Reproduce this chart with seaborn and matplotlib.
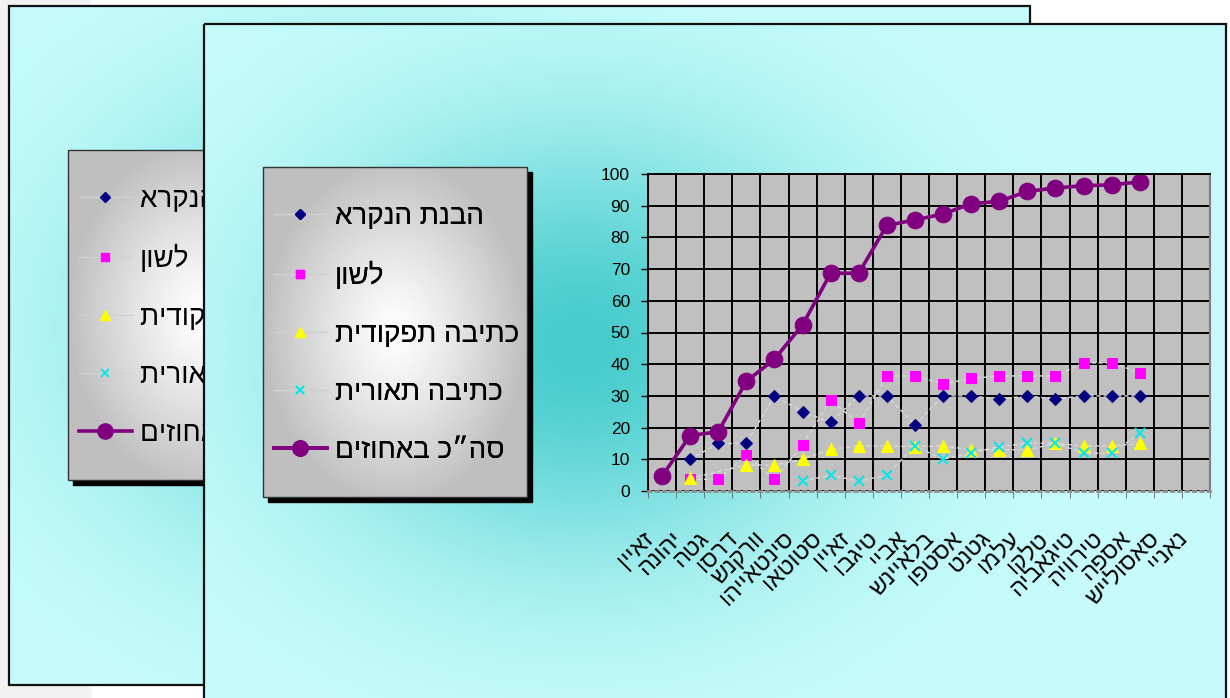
import numpy as np
import seaborn as sns
import matplotlib.pyplot as plt
from matplotlib.lines import Line2D
from matplotlib.patches import Rectangle
from matplotlib.transforms import ScaledTranslation

# category names (logical Hebrew order)
names = ["זאיין", "יהונה", "גטה", "דרסו", "וורקנש", "סינטאייהו", "סטוטאו", "זאיין",
         "טיגבו", "אביי", "בלאיינש", "אסטפו", "גטנט", "עלמו", "טלקו", "טיגאביה",
         "טירוויה", "אספה", "סאסולייש", "נאניי"]

nan = np.nan
reading = [nan, 10, 15, 15, 30, 25, 21.7, 30, 30, 20.9, 30, 30, 29, 30, 29, 30, 30, 30]
language = [nan, 3.7, 3.7, 11.2, 3.7, 14.6, 28.6, 21.3, 36.3, 36.3, 33.7, 35.5, 36.3,
            36.3, 36.3, 40.4, 40.4, 37.3]
functional = [nan, 4, nan, 8.2, 8.2, 10, 13.1, 14.2, 14.2, 14, 14.2, 13, 13, 13, 15,
              14.2, 14.2, 15]
descriptive = [nan, nan, nan, nan, nan, 3.1, 5, 3.1, 5, 14.2, 10, 11.9, 14, 15, 15.2,
               11.9, 11.9, 18.2]
total = [4.7, 17.5, 18.7, 34.6, 41.6, 52.4, 68.7, 68.7, 83.8, 85.5, 87.4, 90.6, 91.4,
         94.5, 95.6, 96.3, 96.6, 97.5]

series_names = ["הבנת הנקרא", "לשון", "כתיבה תפקודית", "כתיבה תאורית", "סה״כ באחוזים"]


def vis(s):
    # matplotlib has no bidi support, so feed Hebrew in visual order
    return s[::-1]


plt.rcParams['font.family'] = ['Liberation Sans', 'DejaVu Sans']

W, H = 1230, 698
fig = plt.figure(figsize=(W / 100, H / 100), dpi=100)
fig.patch.set_facecolor('white')

bg = fig.add_axes([0, 0, 1, 1], zorder=0)
bg.axis('off')
bg.add_patch(Rectangle((0, 0), 90, H, color='#f2f2f2', zorder=0))

light = np.array([200, 252, 252]) / 255
dark = np.array([72, 204, 204]) / 255


def slide(x0, y0, x1, y1, z):
    xs = np.arange(x0, x1, 4) - x0
    ys = np.arange(y0, y1, 4) - y0
    X, Y = np.meshgrid(xs, ys)
    w = np.exp(-((X - 375) / 265) ** 2 - ((Y - 320) / 215) ** 2)
    img = light * (1 - w[..., None]) + dark * w[..., None]
    bg.imshow(img, extent=(x0, x1, y1, y0), zorder=z, interpolation='bilinear',
              aspect='auto')
    bg.add_patch(Rectangle((x0, y0), x1 - x0, y1 - y0, fill=False, ec='#111111',
                           lw=1.6, zorder=z + 0.1))


def legend_box(x0, y0, z):
    bw, bh = 264, 330
    bg.add_patch(Rectangle((x0 + 5, y0 + 5), bw, bh, color='black', zorder=z))
    X, Y = np.meshgrid(np.linspace(-1, 1, 132), np.linspace(-1, 1, 165))
    r = np.clip(np.sqrt(X ** 2 + (Y * 0.95) ** 2), 0, 1)
    v = 1 - 0.25 * r ** 1.2
    img = np.dstack([v, v, v])
    bg.imshow(img, extent=(x0, x0 + bw, y0 + bh, y0), zorder=z + 0.1,
              interpolation='bilinear', aspect='auto')
    bg.add_patch(Rectangle((x0, y0), bw, bh, fill=False, ec='#333333', lw=1,
                           zorder=z + 0.2))


handles = [
    Line2D([], [], color='#d0d0d0', lw=1, marker='D', ms=5.5, mfc='#000080', mec='#000080'),
    Line2D([], [], color='#d0d0d0', lw=1, marker='s', ms=6, mfc='#ff00ff', mec='#ff00ff'),
    Line2D([], [], color='#d0d0d0', lw=1, marker='^', ms=6.5, mfc='#ffff00', mec='#ffff00'),
    Line2D([], [], color='#d0d0d0', lw=1, marker='x', ms=5.5, mec='#00e8e8', mew=1.3),
    Line2D([], [], color='#800080', lw=2.6, marker='o', ms=11, mfc='#800080', mec='#800080'),
]


def add_legend(x0, y0, z):
    leg = bg.legend(handles, [vis(s) for s in series_names], loc='center left',
                    bbox_to_anchor=(x0 + 11, y0 + 167), bbox_transform=bg.transData,
                    frameon=False, fontsize=20, handlelength=1.9, handletextpad=0.3,
                    labelspacing=1.15, borderpad=0, borderaxespad=0)
    leg.set_zorder(z)
    bg.add_artist(leg)


# back slide with its legend, then the front slide over it
slide(9, 6, 1030, 685, 1)
legend_box(68, 150, 2)
add_legend(68, 150, 2.5)
slide(204, 24, 1226, 710, 3)
legend_box(263, 167, 4)
add_legend(263, 167, 4.5)

bg.set_xlim(0, W)
bg.set_ylim(H, 0)

# chart
ax = fig.add_axes([648 / W, 1 - 491 / H, 562 / W, 317 / H], zorder=1)
ax.set_facecolor('#c0c0c0')
x = np.arange(len(total))
dash = dict(color='#dadada', lw=1, ls=(0, (3, 2)))
sns.lineplot(x=x, y=reading, ax=ax, marker='D', ms=6.5, mfc='#000080', mec='#000080', **dash)
sns.lineplot(x=x, y=language, ax=ax, marker='s', ms=7, mfc='#ff00ff', mec='#ff00ff', **dash)
sns.lineplot(x=x, y=functional, ax=ax, marker='^', ms=8, mfc='#ffff00', mec='#ffff00', **dash)
sns.lineplot(x=x, y=descriptive, ax=ax, marker='x', ms=6.5, mec='#00e8e8', mew=1.4, **dash)
sns.lineplot(x=x, y=total, ax=ax, color='#800080', lw=2.6, marker='o', ms=12,
             mfc='#800080', mec='#800080')

ax.set_xlim(-0.5, len(names) - 0.5)
ax.set_ylim(0, 100)
ax.set_xlabel('')
ax.set_ylabel('')
ax.set_yticks(range(0, 101, 10))
ax.set_xticks(range(len(names)))
ax.set_xticklabels([vis(n) for n in names], rotation=45, ha='right', va='top',
                   rotation_mode='anchor', fontsize=17)
ax.set_xticks(np.arange(-0.5, len(names), 1), minor=True)
ax.grid(True, which='minor', axis='x', color='black', lw=1.4)
ax.grid(True, which='major', axis='y', color='black', lw=1.4)
ax.grid(False, which='major', axis='x')
ax.set_axisbelow(True)
ax.tick_params(axis='x', which='major', length=0, pad=26)
ax.tick_params(axis='x', which='minor', length=5, color='#666666')
ax.tick_params(axis='y', length=5, width=1, pad=8, labelsize=12.5, colors='black')
shift = ScaledTranslation(-0.2, 0, fig.dpi_scale_trans)
for lab in ax.get_xticklabels():
    lab.set_transform(lab.get_transform() + shift)

ax.spines['left'].set_color('black')
ax.spines['left'].set_linewidth(1.4)
ax.spines['top'].set_color('black')
ax.spines['top'].set_linewidth(1.4)
ax.spines['right'].set_color('#808080')
ax.spines['right'].set_linewidth(1.5)
ax.spines['bottom'].set_color('#909090')
ax.spines['bottom'].set_linewidth(2)
ax.spines['bottom'].set_linestyle(':')

fig.savefig('out.png', dpi=100)
